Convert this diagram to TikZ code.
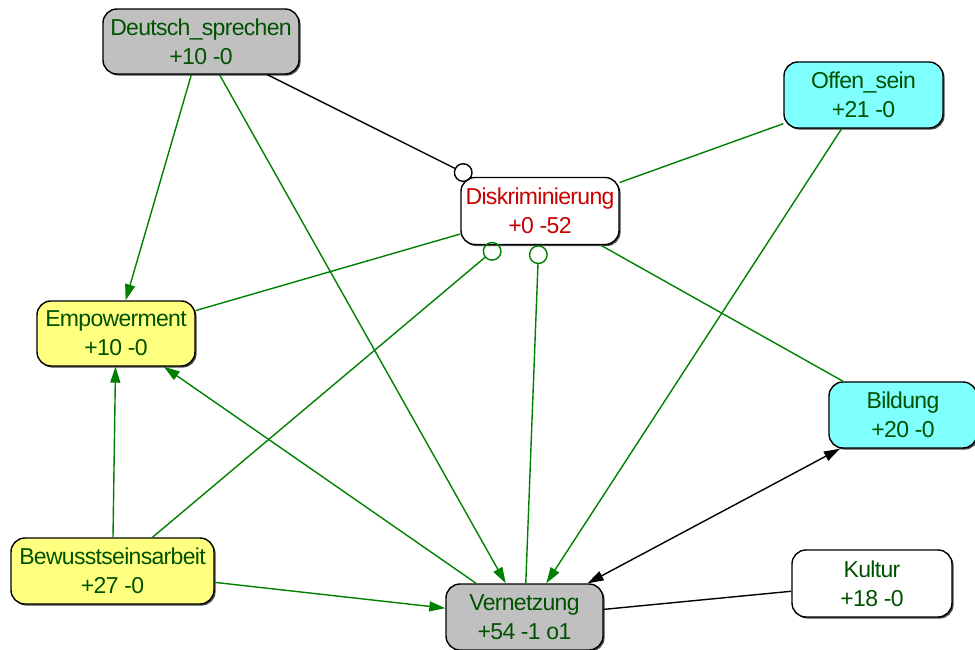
\documentclass[tikz,border=0pt]{standalone}
\usepackage{fontspec}
\setmainfont{Liberation Sans}
\usetikzlibrary{arrows.meta,shadows}
\definecolor{txtgreen}{RGB}{0,82,0}
\definecolor{txtred}{RGB}{200,0,0}
\definecolor{edgegreen}{RGB}{0,128,0}
\definecolor{boxgray}{RGB}{192,192,192}
\definecolor{boxyellow}{RGB}{255,255,128}
\definecolor{boxcyan}{RGB}{128,255,255}
\begin{document}
\begin{tikzpicture}[x=1pt,y=-1pt,
  box/.style={draw=black, line width=1.4pt, rounded corners=14pt, align=center,
    text=txtgreen, inner sep=0pt,
    font=\fontsize{23}{29}\selectfont\addfontfeature{LetterSpace=-3},
    drop shadow={shadow xshift=1.6pt, shadow yshift=-1.6pt, fill=black!70, opacity=1}},
  link/.style={line width=1.4pt},
  glink/.style={link, draw=edgegreen},
  tip/.tip={Triangle[length=16pt,width=10pt]},
  ring/.tip={Circle[open,length=19pt]}]
\useasboundingbox (0,0) rectangle (975,650);

% concept boxes
\node[box, fill=boxgray, minimum width=196pt, minimum height=65pt] (deutsch) at (201,41.5) {Deutsch\_sprechen\\+10 -0};
\node[box, fill=boxcyan, minimum width=159pt, minimum height=66pt] (offen) at (863.5,95) {Offen\_sein\\+21 -0};
\node[box, fill=white, text=txtred, minimum width=158pt, minimum height=67pt] (diskr) at (540,211) {Diskriminierung\\+0 -52};
\node[box, fill=boxyellow, minimum width=158pt, minimum height=65pt] (empow) at (116,333.5) {Empowerment\\+10 -0};
\node[box, fill=boxcyan, minimum width=148pt, minimum height=66pt] (bildung) at (903,415) {Bildung\\+20 -0};
\node[box, fill=boxyellow, minimum width=203pt, minimum height=66pt] (bewusst) at (112.5,571) {Bewusstseinsarbeit\\+27 -0};
\node[box, fill=boxgray, minimum width=157pt, minimum height=66pt] (vernetz) at (524.5,617) {Vernetzung\\+54 -1 o1};
\node[box, fill=white, minimum width=160pt, minimum height=67pt] (kultur) at (872,583.5) {Kultur\\+18 -0};

% relations
\draw[glink, -tip] (deutsch) -- (empow);
\draw[glink, -tip] (deutsch) -- (vernetz);
\draw[link, -ring] (deutsch) -- (diskr);
\draw[glink] (offen) -- (diskr);
\draw[glink, -tip] (offen) -- (vernetz);
\draw[glink] (diskr) -- (empow);
\draw[glink, -ring] (bewusst) -- (diskr);
\draw[glink, -ring] (vernetz) -- (diskr);
\draw[glink] (diskr) -- (bildung);
\draw[glink, -tip] (vernetz) -- (empow);
\draw[glink, -tip] (bewusst) -- (empow);
\draw[glink, -tip] (bewusst) -- (vernetz);
\draw[link, tip-tip] (vernetz) -- (bildung);
\draw[link] (vernetz) -- (kultur);
\end{tikzpicture}
\end{document}
